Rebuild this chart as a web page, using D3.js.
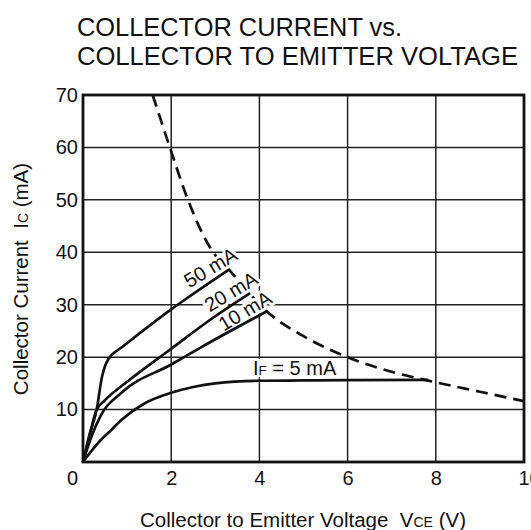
<!DOCTYPE html>
<html><head><meta charset="utf-8">
<script src="https://cdn.jsdelivr.net/npm/d3@7"></script>
<style>
html,body{margin:0;padding:0;background:#fff;}
svg{display:block;font-family:"Liberation Sans",Arial,Helvetica,sans-serif;}
text{white-space:pre;}
</style></head>
<body>
<svg id="chart" width="531" height="530"></svg>
<script>
// ---- data ----
const titleLines = ["COLLECTOR CURRENT vs.", "COLLECTOR TO EMITTER VOLTAGE"];
const xTicks = [0, 2, 4, 6, 8, 10];
const yTicks = [0, 10, 20, 30, 40, 50, 60, 70];
const seriesNames = ["50 mA", "20 mA", "10 mA", "5 mA"];
const curve50 = [[0,0],[0.14,5],[0.31,10],[0.43,16.2],[0.5,18.3],[0.58,19.7],[0.7,20.8],[0.85,21.7],[1.2,24],[2,29.1],[2.3,30.9],[3.31,36.7]];
const curve20 = [[0,0],[0.15,5],[0.3,9.8],[0.5,11.8],[1,15.3],[2,21.6],[2.83,26.8],[3.79,32.2]];
const curve10 = [[0,0],[0.19,4.8],[0.41,9.0],[0.87,13.2],[2,18.6],[2.83,22.6],[4.16,28.7]];
const curve5  = [[0,0],[0.34,3.6],[0.64,6.1],[0.87,8],[1.4,11.2],[2,13.2],[2.5,14.3],[3,15],[4,15.5],[5,15.55],[6,15.6],[7.83,15.65]];
const maxPower = [[1.58,70],[1.97,60],[2.38,50],[2.95,40],[3.31,36.7],[3.79,32],[4.16,28.8],[5,24],[6,20],[7,17.2],[8,15.2],[9,13.4],[10,11.6]];

const svg = d3.select("#chart");
const x = d3.scaleLinear().domain([0, 10]).range([83, 524]);
const y = d3.scaleLinear().domain([0, 70]).range([462, 95]);

// title
svg.selectAll("text.title").data(titleLines).join("text")
  .attr("class","title")
  .attr("x", 77).attr("y", (d,i) => 36 + i*29)
  .attr("font-size", 26).attr("fill", "#111")
  .attr("textLength", (d,i) => i === 0 ? 325 : 441)
  .attr("lengthAdjust", "spacingAndGlyphs")
  .text(d => d);

// gridlines
const grid = svg.append("g").attr("stroke", "#222").attr("stroke-width", 1.5);
grid.selectAll("line.v").data(xTicks.slice(1, -1)).join("line")
  .attr("x1", d => x(d)).attr("x2", d => x(d)).attr("y1", y(0)).attr("y2", y(70));
grid.selectAll("line.h").data(yTicks.slice(1, -1)).join("line")
  .attr("x1", x(0)).attr("x2", x(10)).attr("y1", d => y(d)).attr("y2", d => y(d));

// axes (labels only)
const fs = 20;
const yAxis = svg.append("g").attr("transform", `translate(${x(0)},0)`)
  .call(d3.axisLeft(y).tickValues(yTicks.slice(1)).tickSize(0).tickPadding(5));
yAxis.select(".domain").remove();
yAxis.selectAll("text").attr("font-size", fs).attr("fill", "#111")
  .attr("font-family", "Liberation Sans, Arial, sans-serif");

const xAxis = svg.append("g").attr("transform", `translate(0,${y(0)})`)
  .call(d3.axisBottom(x).tickValues(xTicks).tickSize(0).tickPadding(9));
xAxis.select(".domain").remove();
xAxis.selectAll("text").attr("font-size", fs).attr("fill", "#111")
  .attr("font-family", "Liberation Sans, Arial, sans-serif")
  .attr("text-anchor", d => d === 10 ? "start" : "middle")
  .attr("dx", d => d === 0 ? -11 : (d === 10 ? -6 : 0));

// dashed max-power curve
const line = d3.line().x(d => x(d[0])).y(d => y(d[1])).curve(d3.curveMonotoneX);
svg.append("path").datum(maxPower).attr("d", line)
  .attr("fill", "none").attr("stroke", "#111").attr("stroke-width", 2.7)
  .attr("stroke-dasharray", "12,7");

// curve labels
const labels = [
  {t: seriesNames[0], cx: 210.5, cy: 267.5, r: -31},
  {t: seriesNames[1], cx: 231, cy: 291.5, r: -31},
  {t: seriesNames[2], cx: 245, cy: 310.8, r: -31}
];
const lg = svg.append("g").attr("font-size", fs);
lg.selectAll("text.halo").data(labels).join("text")
  .attr("class","halo")
  .attr("transform", d => `translate(${d.cx},${d.cy}) rotate(${d.r})`)
  .attr("text-anchor","middle").attr("dy","0.35em")
  .attr("stroke","#fff").attr("stroke-width",6).attr("fill","#fff")
  .attr("stroke-linejoin","round")
  .text(d => d.t);
lg.append("rect").attr("x",250).attr("y",359).attr("width",92).attr("height",18).attr("fill","#fff");

// solid curves
const curves = [curve50, curve20, curve10, curve5];
svg.append("g").selectAll("path").data(curves).join("path")
  .attr("d", line).attr("fill","none").attr("stroke","#111")
  .attr("stroke-width", 2.7).attr("stroke-linejoin","round");

// label text
const lt = svg.append("g").attr("font-size", fs).attr("fill","#111");
lt.selectAll("text").data(labels).join("text")
  .attr("transform", d => `translate(${d.cx},${d.cy}) rotate(${d.r})`)
  .attr("text-anchor","middle").attr("dy","0.35em")
  .text(d => d.t);
const ift = lt.append("text").attr("x",253).attr("y",375);
ift.append("tspan").text("I");
ift.append("tspan").attr("font-size", 13.5).text("F");
ift.append("tspan").text(" = " + seriesNames[3]);

// frame
svg.append("rect").attr("x", x(0)).attr("y", y(70))
  .attr("width", x(10) - x(0)).attr("height", y(0) - y(70))
  .attr("fill","none").attr("stroke","#111").attr("stroke-width",2.8);

// axis titles
const xt = svg.append("text").attr("x", 303).attr("y", 527)
  .attr("text-anchor","middle").attr("font-size", 20.5).attr("fill","#111");
xt.append("tspan").text("Collector to Emitter Voltage  V");
xt.append("tspan").attr("font-size", 14).text("CE");
xt.append("tspan").text(" (V)");

const yt = svg.append("text").attr("transform", "translate(28,279) rotate(-90)")
  .attr("text-anchor","middle").attr("font-size", 20.5).attr("fill","#111");
yt.append("tspan").text("Collector Current  I");
yt.append("tspan").attr("font-size", 14).text("C");
yt.append("tspan").text(" (mA)");
</script>
</body></html>
